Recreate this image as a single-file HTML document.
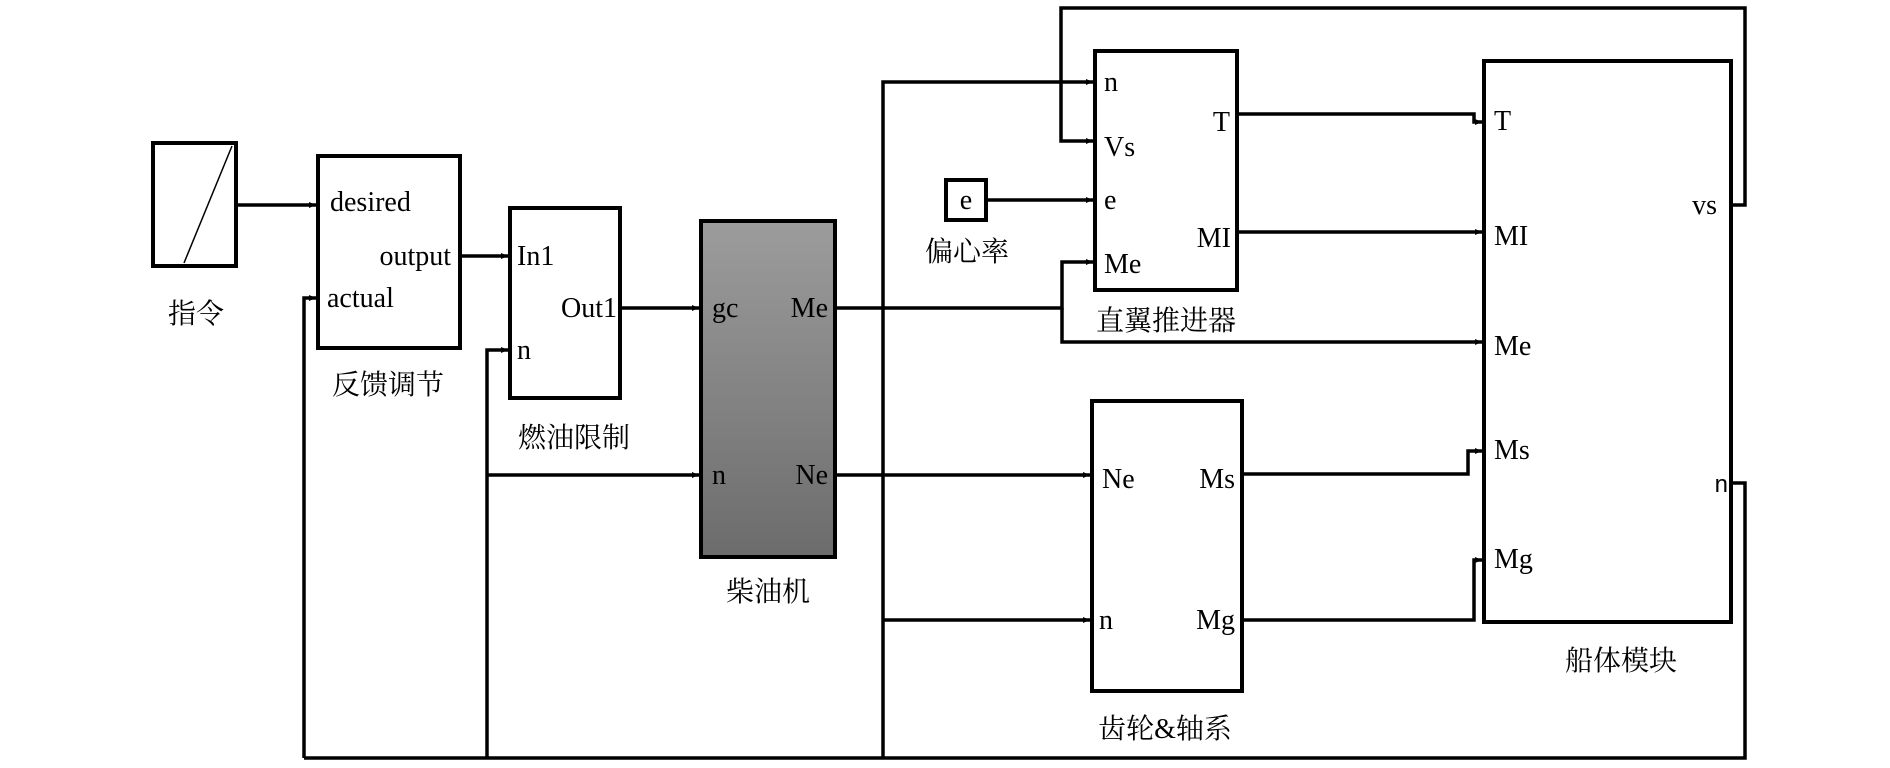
<!DOCTYPE html>
<html><head><meta charset="utf-8"><style>
body{margin:0;background:#fff}
svg text{font-family:"Liberation Serif","Noto Serif CJK SC",serif;font-size:28px;fill:#000}
.c{font-family:"Liberation Serif","Noto Serif CJK SC",serif;font-size:28px}
</style></head><body>
<svg width="1890" height="763" viewBox="0 0 1890 763" xmlns="http://www.w3.org/2000/svg">
<defs>
<marker id="a" markerWidth="8" markerHeight="8" refX="7" refY="4" orient="auto" markerUnits="userSpaceOnUse"><path d="M0,1 L7,4 L0,7z" fill="#000"/></marker>
<linearGradient id="g" x1="0" y1="0" x2="0" y2="1"><stop offset="0" stop-color="#9c9c9c"/><stop offset="1" stop-color="#6c6c6c"/></linearGradient>
</defs>
<g fill="none" stroke="#000" stroke-width="3.5">
<!-- boxes -->
<rect x="153" y="143" width="83" height="123" stroke-width="4"/>
<rect x="318" y="156" width="142" height="192" stroke-width="4"/>
<rect x="510" y="208" width="110" height="190" stroke-width="4"/>
<rect x="701" y="221" width="134" height="336" fill="url(#g)" stroke-width="4"/>
<rect x="1095" y="51" width="142" height="239" stroke-width="4"/>
<rect x="946" y="180" width="40" height="40" stroke-width="4"/>
<rect x="1092" y="401" width="150" height="290" stroke-width="4"/>
<rect x="1484" y="61" width="247" height="561" stroke-width="4"/>
</g>
<line x1="184" y1="263" x2="232" y2="146" stroke="#000" stroke-width="1.5"/>
<g fill="none" stroke="#000" stroke-width="3.5">
<path d="M236,205 H316" marker-end="url(#a)"/>
<path d="M460,256 H508" marker-end="url(#a)"/>
<path d="M620,308 H699" marker-end="url(#a)"/>
<path d="M835,308 H1062 V262 H1093" marker-end="url(#a)"/>
<path d="M1062,308 V342 H1482" marker-end="url(#a)"/>
<path d="M835,475 H1090" marker-end="url(#a)"/>
<path d="M883,758 V82 H1093" marker-end="url(#a)"/>
<path d="M883,620 H1090" marker-end="url(#a)"/>
<path d="M304,758 V298 H316" marker-end="url(#a)"/>
<path d="M487,758 V350 H508" marker-end="url(#a)"/>
<path d="M487,475 H699" marker-end="url(#a)"/>
<path d="M304,758 H1745 V483 H1731"/>
<path d="M1731,205 H1745 V8 H1061 V141 H1093" marker-end="url(#a)"/>
<path d="M986,200 H1093" marker-end="url(#a)"/>
<path d="M1237,114 H1474 V122 H1482" marker-end="url(#a)"/>
<path d="M1237,232 H1482" marker-end="url(#a)"/>
<path d="M1242,474 H1468 V451 H1482" marker-end="url(#a)"/>
<path d="M1242,620 H1474 V560 H1482" marker-end="url(#a)"/>
</g>
<text x="330" y="211">desired</text>
<text x="451" y="265" text-anchor="end">output</text>
<text x="327" y="307">actual</text>
<text x="517" y="265">In1</text>
<text x="617" y="317" text-anchor="end">Out1</text>
<text x="517" y="359">n</text>
<text x="712" y="317">gc</text>
<text x="828" y="317" text-anchor="end">Me</text>
<text x="712" y="484">n</text>
<text x="828" y="484" text-anchor="end">Ne</text>
<text x="1104" y="91">n</text>
<text x="1104" y="156">Vs</text>
<text x="1104" y="209">e</text>
<text x="1104" y="273">Me</text>
<text x="1230" y="131" text-anchor="end">T</text>
<text x="1231" y="247" text-anchor="end">MI</text>
<text x="966" y="209" text-anchor="middle">e</text>
<text x="1102" y="488">Ne</text>
<text x="1099" y="629">n</text>
<text x="1235" y="488" text-anchor="end">Ms</text>
<text x="1235" y="629" text-anchor="end">Mg</text>
<text x="1494" y="130">T</text>
<text x="1494" y="245">MI</text>
<text x="1494" y="355">Me</text>
<text x="1494" y="459">Ms</text>
<text x="1494" y="568">Mg</text>
<text x="1717" y="214" text-anchor="end">vs</text>
<text x="1728" y="492" text-anchor="end" style="font-family:'Liberation Sans',sans-serif;font-size:24px">n</text>
<text class="c" x="196" y="323" text-anchor="middle">指令</text>
<text class="c" x="388" y="394" text-anchor="middle">反馈调节</text>
<text class="c" x="574" y="447" text-anchor="middle">燃油限制</text>
<text class="c" x="768" y="601" text-anchor="middle">柴油机</text>
<text class="c" x="967" y="261" text-anchor="middle">偏心率</text>
<text class="c" x="1166" y="330" text-anchor="middle">直翼推进器</text>
<text class="c" x="1165" y="738" text-anchor="middle">齿轮&amp;轴系</text>
<text class="c" x="1621" y="670" text-anchor="middle">船体模块</text>
</svg>
</body></html>
